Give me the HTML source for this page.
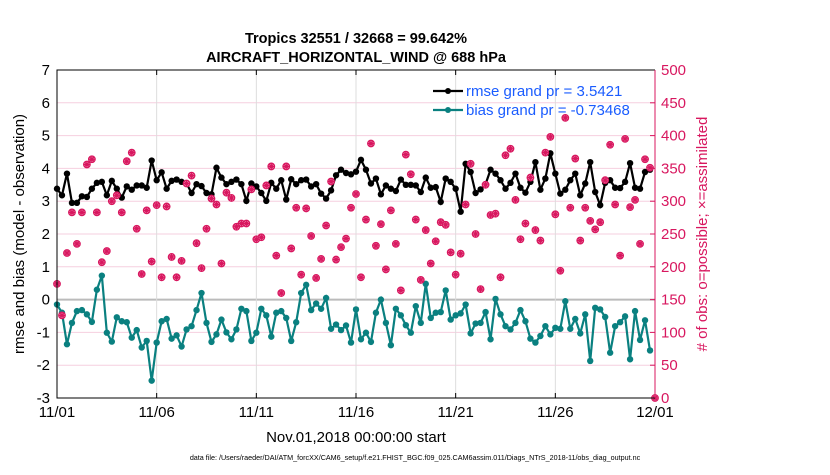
<!DOCTYPE html>
<html><head><meta charset="utf-8"><style>
body{margin:0;background:#fff;font-family:"Liberation Sans",sans-serif;}
svg text{font-family:"Liberation Sans",sans-serif;}
</style></head><body>
<svg id="chart" width="830" height="470" xmlns="http://www.w3.org/2000/svg">
<text x="356" y="43" text-anchor="middle" font-size="14.5" font-weight="bold">Tropics 32551 / 32668 = 99.642%</text>
<text x="356" y="62" text-anchor="middle" font-size="14.5" font-weight="bold">AIRCRAFT_HORIZONTAL_WIND @ 688 hPa</text>
<g id="grid"></g><g id="marks"></g><g id="axes"></g>
<text transform="translate(24,234) rotate(-90)" text-anchor="middle" font-size="15">rmse and bias (model - observation)</text>
<text transform="translate(707,234) rotate(-90)" text-anchor="middle" font-size="15" fill="#d8175f"># of obs: o=possible; ×=assimilated</text>
<text x="356" y="442" text-anchor="middle" font-size="15">Nov.01,2018 00:00:00 start</text>
<text x="415" y="460" text-anchor="middle" font-size="7.2">data file: /Users/raeder/DAI/ATM_forcXX/CAM6_setup/f.e21.FHIST_BGC.f09_025.CAM6assim.011/Diags_NTrS_2018-11/obs_diag_output.nc</text>
</svg>
<script>
const rmse=[3.38,3.18,3.84,2.95,2.95,3.15,3.13,3.38,3.56,3.59,3.18,3.62,3.38,3.11,3.45,3.35,3.48,3.48,3.41,4.24,3.64,3.88,3.38,3.62,3.66,3.59,3.54,3.25,3.52,3.46,3.25,
3.21,4.02,3.72,3.52,3.59,3.66,3.52,3.01,3.54,3.45,3.25,3.01,3.56,3.38,3.64,3.05,3.67,3.52,3.64,3.66,3.45,3.52,3.23,3.08,3.33,3.79,3.96,3.86,3.82,3.9,
4.26,3.96,3.54,3.69,3.21,3.48,3.38,3.31,3.66,3.50,3.50,3.48,3.28,3.72,3.41,3.43,2.98,3.69,3.59,3.38,2.68,4.14,3.89,3.25,3.36,3.52,3.96,3.84,3.64,3.38,
3.56,3.84,3.41,3.26,3.59,4.19,3.35,3.69,4.46,3.84,3.23,3.35,3.64,3.84,3.18,3.54,4.19,3.28,2.88,3.56,3.64,3.41,3.40,3.59,4.16,3.41,3.38,3.89,3.96];
const bias=[-0.15,-0.40,-1.36,-0.71,-0.35,-0.32,-0.45,-0.68,0.30,0.73,-1.01,-1.28,-0.54,-0.66,-0.69,-1.16,-0.93,-1.46,-1.26,-2.47,-1.31,-0.66,-0.59,-1.19,-1.09,-1.43,-0.91,-0.81,-0.32,0.20,-0.71,
-1.29,-1.06,-0.61,-1.00,-1.21,-0.91,-0.28,-0.35,-1.26,-1.01,-0.28,-0.48,-1.13,-0.40,-0.35,-0.56,-1.26,-0.69,0.20,0.45,-0.32,-0.12,-0.28,0.05,-0.89,-0.76,-0.93,-0.79,-1.31,-0.30,
-1.21,-1.01,-1.29,-0.40,0.00,-0.71,-1.39,-0.28,-0.48,-0.78,-1.01,-0.20,-0.71,0.48,-0.56,-0.40,-0.38,0.28,-0.61,-0.48,-0.42,-0.15,-1.03,-0.73,-0.71,-0.38,-1.21,0.02,-0.45,-0.81,
-0.91,-0.71,-0.32,-0.66,-1.19,-1.31,-1.11,-0.81,-1.06,-0.86,-0.89,-0.05,-0.89,-0.59,-1.03,-0.45,-1.87,-0.25,-0.30,-0.53,-1.62,-0.81,-0.69,-0.51,-1.82,-0.35,-1.23,-0.63,-1.55];
const obsCount=[174,126,221,283,235,283,356,364,283,207,224,300,309,283,361,374,258,189,286,208,294,184,292,215,184,209,327,339,236,198,258,
304,295,205,313,305,261,266,266,318,242,245,324,353,217,160,353,228,290,188,289,247,183,212,263,330,211,230,243,290,311,
184,272,388,232,265,196,286,235,164,371,341,272,180,256,205,239,268,264,222,188,220,295,357,250,166,325,279,281,184,370,
380,302,242,266,336,256,240,374,398,280,194,427,290,365,240,290,270,257,268,332,386,295,217,395,291,302,235,364,351,0];
const leftTicks=[7,6,5,4,3,2,1,0,-1,-2,-3];
const rightTicks=[0,50,100,150,200,250,300,350,400,450,500];
const dateLabels=["11/01","11/06","11/11","11/16","11/21","11/26","12/01"];
const stepDays=0.25;
const L=57,R=655,T=70,B=398,NS="http://www.w3.org/2000/svg";
const xS=d=>L+d*(R-L)/30, yS=v=>B-(v+3)*(B-T)/10, y2S=c=>B-c*(B-T)/500;
function mk(t,a,p){const e=document.createElementNS(NS,t);for(const k in a)e.setAttribute(k,a[k]);p.appendChild(e);return e;}
const grid=document.getElementById('grid'),marks=document.getElementById('marks'),axes=document.getElementById('axes');
mk('rect',{x:L,y:T,width:R-L,height:B-T,fill:'#fff'},grid);
leftTicks.forEach(v=>{const g=mk('line',{x1:L,x2:R,y1:yS(v),y2:yS(v),stroke:v===0?'#bbb':'#f6cfdf','stroke-width':v===0?2:1},grid);


const t=mk('text',{x:L-7,y:yS(v)+5,'text-anchor':'end','font-size':15},axes);t.textContent=v;

});
dateLabels.forEach((s,i)=>{const x=xS(i*5);if(i>0&&i<6){const g=mk('line',{x1:x,x2:x,y1:T,y2:B,stroke:'#ddd'},grid);

}
mk('line',{x1:x,x2:x,y1:B,y2:B-5,stroke:'#000'},axes);mk('line',{x1:x,x2:x,y1:T,y2:T+5,stroke:'#000'},axes);
const t=mk('text',{x:x,y:B+19,'text-anchor':'middle','font-size':15},axes);t.textContent=s;

});
rightTicks.forEach(c=>{const y=y2S(c);mk('line',{x1:R,x2:R-5,y1:y,y2:y,stroke:'#d8175f'},axes);
const t=mk('text',{x:R+6,y:y+5,'font-size':15,fill:'#d8175f'},axes);t.textContent=c;

});
function series(arr,col,name){const pts=arr.map((v,i)=>xS(i*stepDays)+','+yS(v)).join(' ');
const p=mk('polyline',{points:pts,fill:'none',stroke:col,'stroke-width':2.2},marks);


arr.forEach((v,i)=>{const c=mk('circle',{cx:xS(i*stepDays),cy:yS(v),r:3.2,fill:col},marks);

});}
series(rmse,'#000','rmse');series(bias,'#0a8080','bias');
// counts (drawn on top)
obsCount.forEach((c,i)=>{const x=xS(i*stepDays),y=y2S(c);const g=mk('g',{stroke:'#d8175f','stroke-width':1.2},marks);


mk('circle',{cx:x,cy:y,r:3.3,fill:'#f4a6c4'},g);
mk('path',{d:`M${x-3.5},${y}h7M${x},${y-3.5}v7M${x-2.5},${y-2.5}l5,5M${x-2.5},${y+2.5}l5,-5`},g);});
// frame
mk('path',{d:`M${R},${T}H${L}V${B}H${R}`,fill:'none',stroke:'#000','stroke-width':1},axes);
mk('line',{x1:R,x2:R,y1:T,y2:B,stroke:'#d8175f','stroke-width':1},axes);
// legend
const lg=mk('g',{},axes);


[['rmse grand pr = 3.5421','#000',91],['bias grand pr = -0.73468','#0a8080',110]].forEach(([s,c,y])=>{
mk('line',{x1:433,x2:463,y1:y,y2:y,stroke:c,'stroke-width':2.2},lg);mk('circle',{cx:448,cy:y,r:3,fill:c},lg);
const t=mk('text',{x:466,y:y+5,'font-size':15,fill:'#1a5cff'},lg);t.textContent=s;

});
</script>
</body></html>
